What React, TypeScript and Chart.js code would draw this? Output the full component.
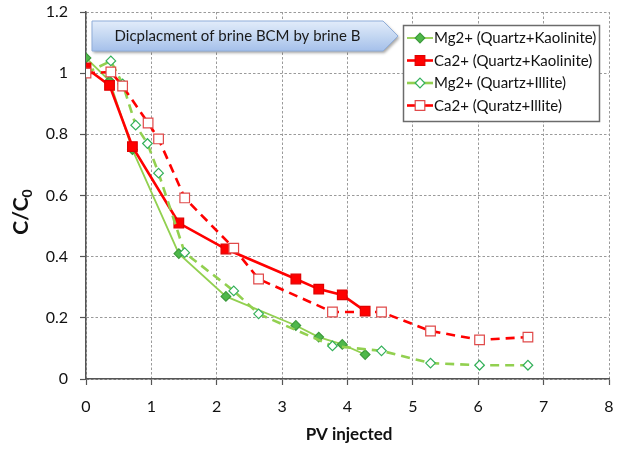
import React, { useEffect, useRef } from 'react';
import { Chart, registerables } from 'chart.js';

Chart.register(...registerables);

const FONT = 'Lato, Carlito, Calibri, "Open Sans", sans-serif';

// ---- data ----
const seriesNames = [
  'Mg2+ (Quartz+Kaolinite)',
  'Ca2+ (Quartz+Kaolinite)',
  'Mg2+ (Quartz+Illite)',
  'Ca2+ (Quratz+Illite)',
];
const kaoPV = [0, 0.36, 0.71, 1.42, 2.14, 3.21, 3.56, 3.92, 4.27];
const mgKao = [1.05, 0.975, 0.75, 0.41, 0.27, 0.175, 0.137, 0.113, 0.08];
const caKao = [1.017, 0.96, 0.76, 0.51, 0.425, 0.327, 0.294, 0.275, 0.222];
const mgIllPV = [0, 0.38, 0.56, 0.76, 0.94, 1.11, 1.51, 2.26, 2.64, 3.77, 4.52, 5.27, 6.02, 6.76];
const mgIll = [1.0, 1.04, 0.965, 0.83, 0.77, 0.673, 0.413, 0.288, 0.213, 0.108, 0.092, 0.052, 0.045, 0.045];
const caIllPV = [0, 0.38, 0.56, 0.95, 1.11, 1.51, 2.26, 2.64, 3.77, 4.52, 5.27, 6.02, 6.76];
const caIll = [1.0, 1.004, 0.958, 0.837, 0.785, 0.592, 0.428, 0.327, 0.219, 0.219, 0.157, 0.128, 0.137];
const xTickValues = [0, 1, 2, 3, 4, 5, 6, 7, 8];
const yTickValues = [0, 0.2, 0.4, 0.6, 0.8, 1, 1.2];
const annotationText = 'Dicplacment of brine BCM by brine B';
const xTitle = 'PV injected';
const yTitleMain = 'C/C';
const yTitleSub = '0';

type Style = {
  line: string; width: number; dash: number[]; shape: 'diamond' | 'square';
  radius: number; fill: string; stroke: string;
};
const styles: Style[] = [
  { line: '#92D050', width: 1.8, dash: [], shape: 'diamond', radius: 4.8, fill: '#4fb84a', stroke: '#3c9a3c' },
  { line: '#FF0000', width: 2.6, dash: [], shape: 'square', radius: 6.8, fill: '#FF0000', stroke: '#e00000' },
  { line: '#92D050', width: 2.6, dash: [9, 6], shape: 'diamond', radius: 4.8, fill: '#ffffff', stroke: '#33b05a' },
  { line: '#FF0000', width: 2.6, dash: [9, 6], shape: 'square', radius: 6.8, fill: '#ffffff', stroke: '#e04a4a' },
];

function drawMarker(ctx: CanvasRenderingContext2D, st: Style, x: number, y: number) {
  ctx.save();
  ctx.setLineDash([]);
  ctx.beginPath();
  if (st.shape === 'diamond') {
    const r = st.radius;
    ctx.moveTo(x, y - r); ctx.lineTo(x + r, y); ctx.lineTo(x, y + r); ctx.lineTo(x - r, y); ctx.closePath();
  } else {
    const s = st.radius * Math.SQRT1_2;
    ctx.rect(x - s, y - s, 2 * s, 2 * s);
  }
  ctx.fillStyle = st.fill; ctx.fill();
  ctx.lineWidth = 1.2; ctx.strokeStyle = st.stroke; ctx.stroke();
  ctx.restore();
}

const overlayPlugin = {
  id: 'overlay',
  afterDraw(chart: any) {
    const ctx: CanvasRenderingContext2D = chart.ctx;
    // annotation arrow box
    ctx.save();
    const bx = 92, by = 21, bw = 291, bh = 30, tip = 15;
    ctx.beginPath();
    ctx.moveTo(bx, by); ctx.lineTo(bx + bw, by); ctx.lineTo(bx + bw + tip, by + bh / 2);
    ctx.lineTo(bx + bw, by + bh); ctx.lineTo(bx, by + bh); ctx.closePath();
    const g = ctx.createLinearGradient(0, by, 0, by + bh);
    g.addColorStop(0, '#e2ecfa'); g.addColorStop(0.5, '#c4d7f2'); g.addColorStop(1, '#a5c0ea');
    ctx.shadowColor = 'rgba(0,0,0,0.35)'; ctx.shadowBlur = 3; ctx.shadowOffsetX = 1.5; ctx.shadowOffsetY = 2;
    ctx.fillStyle = g; ctx.fill();
    ctx.shadowColor = 'transparent';
    ctx.lineWidth = 1; ctx.strokeStyle = '#8fadd9'; ctx.stroke();
    ctx.fillStyle = '#1a1a1a';
    ctx.font = `15px ${FONT}`;
    ctx.textAlign = 'center'; ctx.textBaseline = 'middle';
    ctx.fillText(annotationText, bx + bw / 2, by + bh / 2 + 0.5);
    ctx.restore();

    // legend
    ctx.save();
    const lx = 403.5, ly = 25.5, lw = 196, lh = 96;
    ctx.fillStyle = '#ffffff'; ctx.fillRect(lx, ly, lw, lh);
    ctx.lineWidth = 1.5; ctx.strokeStyle = '#6b6b6b'; ctx.strokeRect(lx, ly, lw, lh);
    ctx.font = `15px ${FONT}`; ctx.textAlign = 'left'; ctx.textBaseline = 'middle';
    const rows = [38, 60.5, 83, 105.5];
    styles.forEach((st, i) => {
      const y = rows[i];
      ctx.beginPath(); ctx.setLineDash([]);
      ctx.strokeStyle = st.line; ctx.lineWidth = st.width;
      ctx.moveTo(407, y); ctx.lineTo(433, y); ctx.stroke();
      drawMarker(ctx, st, 420, y);
      ctx.fillStyle = '#111';
      ctx.fillText(seriesNames[i], 434, y + 0.5);
    });
    ctx.restore();

    // axis titles
    ctx.save();
    ctx.fillStyle = '#111';
    ctx.font = `bold 17px ${FONT}`; ctx.textAlign = 'center'; ctx.textBaseline = 'middle';
    ctx.fillText(xTitle, 349, 435);
    ctx.translate(21, 212); ctx.rotate(-Math.PI / 2);
    ctx.font = `bold 21px ${FONT}`;
    const w1 = ctx.measureText(yTitleMain).width;
    ctx.font = `bold 14px ${FONT}`;
    const w2 = ctx.measureText(yTitleSub).width;
    const start = -(w1 + w2) / 2;
    ctx.textAlign = 'left'; ctx.textBaseline = 'alphabetic';
    ctx.font = `bold 21px ${FONT}`;
    ctx.fillText(yTitleMain, start, 7);
    ctx.font = `bold 14px ${FONT}`;
    ctx.fillText(yTitleSub, start + w1, 11);
    ctx.restore();
  },
};

export default function App() {
  const ref = useRef<HTMLCanvasElement | null>(null);
  useEffect(() => {
    document.body.style.margin = '0';
    const canvas = ref.current!;
    const mk = (xs: number[], ys: number[]) => xs.map((x, i) => ({ x, y: ys[i] }));
    const dataArr = [mk(kaoPV, mgKao), mk(kaoPV, caKao), mk(mgIllPV, mgIll), mk(caIllPV, caIll)];
    const chart = new Chart(canvas, {
      type: 'line',
      data: {
        datasets: dataArr.map((d, i) => {
          const st = styles[i];
          return {
            label: seriesNames[i],
            data: d,
            borderColor: st.line,
            borderWidth: st.width,
            borderDash: st.dash,
            tension: 0,
            fill: false,
            pointStyle: st.shape === 'diamond' ? 'rectRot' : 'rect',
            pointRadius: st.radius,
            pointBackgroundColor: st.fill,
            pointBorderColor: st.stroke,
            pointBorderWidth: 1.2,
            order: 4 - i,
          } as any;
        }),
      },
      options: {
        responsive: false,
        animation: false,
        events: [],
        layout: { padding: { top: 12, right: 7, left: 0, bottom: 0 } },
        plugins: { legend: { display: false }, tooltip: { enabled: false }, title: { display: false } },
        scales: {
          x: {
            type: 'linear', min: 0, max: 8,
            afterFit: (s: any) => { s.height = 71; s.paddingLeft = 0; s.paddingRight = 0; },
            afterBuildTicks: (s: any) => { s.ticks = xTickValues.map((v) => ({ value: v })); },
            ticks: { font: { family: FONT, size: 16 }, color: '#111', padding: 12, callback: (v: any) => String(v), maxRotation: 0 },
            grid: { color: '#9a9a9a', lineWidth: 1, tickColor: '#555', tickLength: 6, tickBorderDash: [], tickWidth: 1.2 },
            border: { color: '#555', width: 1.5, dash: [2.5, 2] },
          },
          y: {
            type: 'linear', min: 0, max: 1.2,
            afterFit: (s: any) => { s.width = 86; s.paddingTop = 0; s.paddingBottom = 0; },
            afterBuildTicks: (s: any) => { s.ticks = yTickValues.map((v) => ({ value: v })); },
            ticks: { font: { family: FONT, size: 16 }, color: '#111', padding: 12, callback: (v: any) => String(Number(Number(v).toFixed(1))) },
            grid: { color: '#9a9a9a', lineWidth: 1, tickColor: '#555', tickLength: 6, tickBorderDash: [], tickWidth: 1.2 },
            border: { color: '#555', width: 1.5, dash: [2.5, 2] },
          },
        },
      } as any,
      plugins: [overlayPlugin],
    });
    return () => chart.destroy();
  }, []);
  return (
    <div style={{ width: 617, height: 450 }}>
      <canvas ref={ref} width={617} height={450} style={{ display: 'block' }} />
    </div>
  );
}
